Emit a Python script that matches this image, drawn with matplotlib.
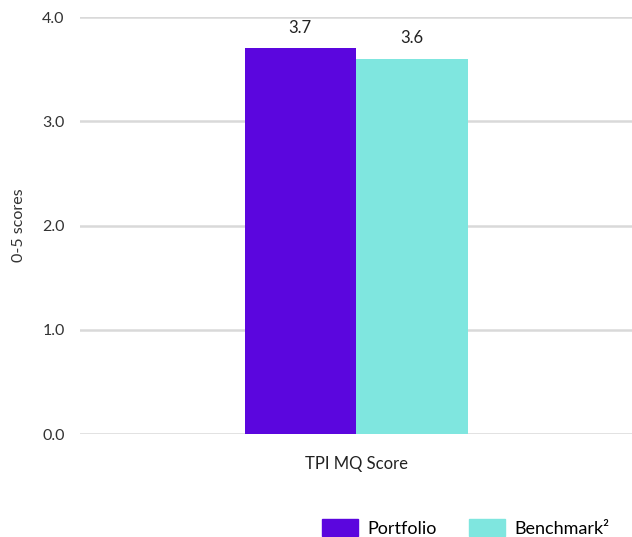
import numpy as np
import matplotlib.pyplot as plt
from matplotlib.patches import Patch

plt.rcParams['font.family'] = ['Lato', 'DejaVu Sans']

category = 'TPI MQ Score'
series = ['Portfolio', 'Benchmark²']
values = [3.7, 3.6]
colors = ['#5b06de', '#7fe6df']
yticks = [0.0, 1.0, 2.0, 3.0, 4.0]

fig = plt.figure(figsize=(6.32, 5.37), dpi=100)
ax = fig.add_axes([0.1266, 0.1918, 0.8734, 0.7765])

width = 0.202
offsets = [-width / 2, width / 2]
for val, off, col in zip(values, offsets, colors):
    ax.bar(off, val, width=width, color=col, zorder=3)
    ax.text(off, val + 0.12, f'{val:.1f}', ha='center', va='bottom',
            fontsize=12, color='#222222')

ax.set_xlim(-0.5, 0.5)
ax.set_ylim(0, 4)
ax.set_yticks(yticks)
ax.set_yticklabels([f'{t:.1f}' for t in yticks], fontsize=11.5, color='#333333')
ax.set_xticks([0])
ax.set_xticklabels([category], fontsize=12, color='#222222')
ax.tick_params(axis='y', length=0, pad=11)
ax.tick_params(axis='x', length=0, pad=16)
ax.yaxis.grid(True, color='#d9d9d9', linewidth=1.8, zorder=0)
for s in ax.spines.values():
    s.set_visible(False)
ax.set_ylabel('0-5 scores', fontsize=11.5, color='#333333', labelpad=12)

handles = [Patch(color=c, label=s) for c, s in zip(colors, series)]
fig.legend(handles=handles, loc='lower right', bbox_to_anchor=(0.99, -0.03),
           ncol=2, frameon=False, fontsize=13, handlelength=2.0,
           handleheight=1.1, columnspacing=1.8, handletextpad=0.5)

fig.savefig('out.png', dpi=100)
